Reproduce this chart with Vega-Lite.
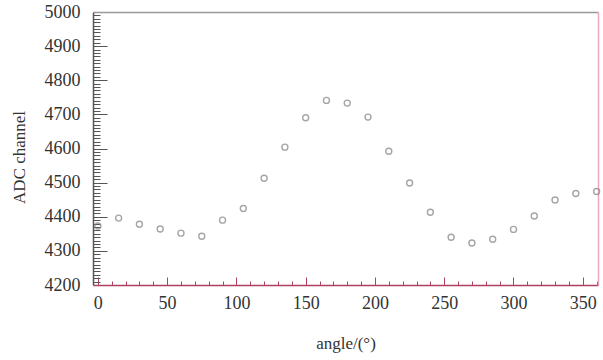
{
  "$schema": "https://vega.github.io/schema/vega-lite/v6.json",
  "width": 505,
  "height": 273,
  "autosize": {"type": "none"},
  "padding": {"left": 93, "top": 12, "right": 5, "bottom": 75},
  "background": "white",
  "config": {
    "view": {"stroke": null},
    "font": "Liberation Serif",
    "axis": {"labelFont": "Liberation Serif", "titleFont": "Liberation Serif", "labelColor": "#333", "titleColor": "#333", "grid": false, "labelFontSize": 18, "titleFontSize": 17, "titleFontWeight": "normal"}
  },
  "data": {"values": [
    {"angle": 0, "adc": 4373},
    {"angle": 15, "adc": 4396},
    {"angle": 30, "adc": 4378},
    {"angle": 45, "adc": 4364},
    {"angle": 60, "adc": 4352},
    {"angle": 75, "adc": 4343},
    {"angle": 90, "adc": 4390},
    {"angle": 105, "adc": 4424},
    {"angle": 120, "adc": 4513},
    {"angle": 135, "adc": 4604},
    {"angle": 150, "adc": 4690},
    {"angle": 165, "adc": 4741},
    {"angle": 180, "adc": 4733},
    {"angle": 195, "adc": 4692},
    {"angle": 210, "adc": 4592},
    {"angle": 225, "adc": 4499},
    {"angle": 240, "adc": 4413},
    {"angle": 255, "adc": 4340},
    {"angle": 270, "adc": 4323},
    {"angle": 285, "adc": 4334},
    {"angle": 300, "adc": 4363},
    {"angle": 315, "adc": 4402},
    {"angle": 330, "adc": 4449},
    {"angle": 345, "adc": 4468},
    {"angle": 360, "adc": 4474}
  ]},
  "resolve": {"axis": {"x": "independent", "y": "independent"}},
  "layer": [
    {
      "mark": {"type": "point", "opacity": 0},
      "encoding": {
        "x": {"field": "angle", "type": "quantitative", "scale": {"domain": [-3.5, 361], "nice": false, "zero": false},
          "axis": {"orient": "top", "labels": false, "ticks": false, "title": null, "domainColor": "#999", "domainWidth": 1.5}},
        "y": {"field": "adc", "type": "quantitative", "scale": {"domain": [4200, 5000], "nice": false, "zero": false},
          "axis": {"orient": "right", "labels": false, "ticks": false, "title": null, "domainColor": "#f2a8bc", "domainWidth": 1.5}}
      }
    },
    {
      "mark": {"type": "point", "opacity": 0},
      "encoding": {
        "x": {"field": "angle", "type": "quantitative",
          "axis": {"orient": "bottom", "labels": false, "domain": false, "title": null, "values": [0,10,20,30,40,60,70,80,90,110,120,130,140,160,170,180,190,210,220,230,240,260,270,280,290,310,320,330,340,360], "tickSize": -4, "tickColor": "#b04060", "tickWidth": 1}},
        "y": {"field": "adc", "type": "quantitative",
          "axis": {"orient": "left", "labels": false, "domain": false, "title": null, "values": [4210,4220,4230,4240,4250,4260,4270,4280,4290,4310,4320,4330,4340,4350,4360,4370,4380,4390,4410,4420,4430,4440,4450,4460,4470,4480,4490,4510,4520,4530,4540,4550,4560,4570,4580,4590,4610,4620,4630,4640,4650,4660,4670,4680,4690,4710,4720,4730,4740,4750,4760,4770,4780,4790,4810,4820,4830,4840,4850,4860,4870,4880,4890,4910,4920,4930,4940,4950,4960,4970,4980,4990], "tickSize": -7, "tickColor": "#555", "tickWidth": 1}}
      }
    },
    {
      "mark": {"type": "point", "opacity": 0},
      "encoding": {
        "x": {"field": "angle", "type": "quantitative",
          "axis": {"orient": "bottom", "labels": false, "domain": false, "title": null, "values": [0, 50, 100, 150, 200, 250, 300, 350], "tickSize": -8, "tickColor": "#b04060", "tickWidth": 1}},
        "y": {"field": "adc", "type": "quantitative",
          "axis": {"orient": "left", "labels": false, "domain": false, "title": null, "values": [4300, 4400, 4500, 4600, 4700, 4800, 4900], "tickSize": -14, "tickColor": "#555", "tickWidth": 1}}
      }
    },
    {
      "mark": {"type": "point", "shape": "circle", "filled": false, "size": 36, "stroke": "#808080", "strokeWidth": 1.4},
      "encoding": {
        "x": {"field": "angle", "type": "quantitative",
          "axis": {"orient": "bottom", "title": "angle/(°)", "format": "d", "values": [0, 50, 100, 150, 200, 250, 300, 350], "ticks": false, "labelPadding": 9, "domainColor": "#b04060", "domainWidth": 1.5, "titlePadding": 23}},
        "y": {"field": "adc", "type": "quantitative",
          "axis": {"orient": "left", "title": "ADC channel", "format": "d", "values": [4200, 4300, 4400, 4500, 4600, 4700, 4800, 4900, 5000], "ticks": false, "labelPadding": 13, "domainColor": "#555", "domainWidth": 1.5, "titlePadding": 16, "titleY": 145}}
      }
    }
  ]
}
